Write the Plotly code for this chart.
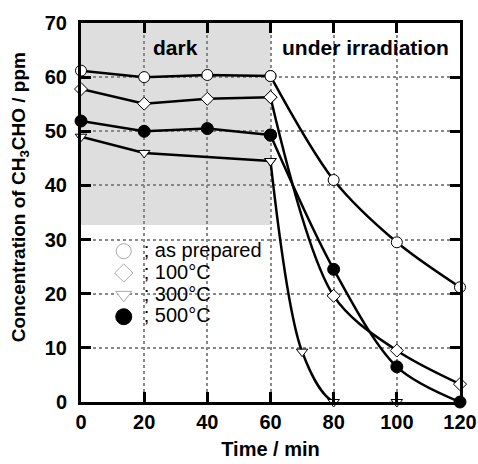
import plotly.graph_objects as go

# Data
t_dark = [0, 20, 40, 60]
t_irr = [60, 80, 100, 120]

as_prep_dark = [61.2, 60.0, 60.4, 60.2]
as_prep_irr = [60.2, 41.0, 29.5, 21.2]

c100_dark = [57.8, 55.1, 56.0, 56.3]
c100_irr = [56.3, 19.6, 9.5, 3.3]

t300_dark = [0, 20, 60]
c300_dark = [49.0, 46.0, 44.5]
t300_irr = [60, 70, 80, 100]
c300_irr = [44.5, 9.3, 0.0, 0.0]

c500_dark = [51.9, 50.0, 50.5, 49.3]
c500_irr = [49.3, 24.5, 6.5, 0.0]

legend_labels = ["; as prepared", "; 100°C", "; 300°C", "; 500°C"]
x_ticks = [0, 20, 40, 60, 80, 100, 120]
y_ticks = [0, 10, 20, 30, 40, 50, 60, 70]

FONT = "Liberation Sans, Arial, Helvetica, sans-serif"

styles = [
    dict(symbol="circle", size=11, color="white"),
    dict(symbol="diamond", size=10, color="white"),
    dict(symbol="triangle-down", size=10, color="white"),
    dict(symbol="circle", size=12, color="black"),
]

series = [
    (t_dark, as_prep_dark, t_irr, as_prep_irr),
    (t_dark, c100_dark, t_irr, c100_irr),
    (t300_dark, c300_dark, t300_irr, c300_irr),
    (t_dark, c500_dark, t_irr, c500_irr),
]

fig = go.Figure()

for (xd, yd, xi, yi), st, lab in zip(series, styles, legend_labels):
    mk = dict(symbol=st["symbol"], size=st["size"], color=st["color"],
              line=dict(color="black", width=1))
    fig.add_trace(go.Scatter(x=xi, y=yi, mode="lines+markers",
                             line=dict(color="black", width=2.5, shape="spline", smoothing=0.9),
                             marker=mk, showlegend=False, cliponaxis=False))
    fig.add_trace(go.Scatter(x=xd, y=yd, mode="lines+markers", line=dict(color="black", width=2.5),
                             marker=mk, showlegend=False, cliponaxis=False))
    lmk = dict(symbol=st["symbol"], size=st["size"] + 4, color=st["color"],
               line=dict(color="#aaaaaa" if st["color"] == "white" else "black", width=1))
    fig.add_trace(go.Scatter(x=[None], y=[None], mode="markers", marker=lmk,
                             name='<span style="font-size:20px">%s</span>' % lab, showlegend=True))

fig.add_shape(type="rect", x0=0, x1=60, y0=32.7, y1=70, xref="x", yref="y",
              fillcolor="#dedede", line=dict(width=0), layer="below")

fig.add_annotation(x=30, y=65.5, text="<b>dark</b>", showarrow=False,
                   font=dict(family=FONT, size=21, color="black"))
fig.add_annotation(x=90, y=65.5, text="<b>under irradiation</b>", showarrow=False,
                   font=dict(family=FONT, size=21, color="black"))

# y-axis title as a rotated annotation (positioned in paper coordinates)
fig.add_annotation(x=-0.161, y=0.54, xref="paper", yref="paper", textangle=-90,
                   xanchor="center", yanchor="middle", showarrow=False,
                   text="<b>Concentration of CH<sub>3</sub>CHO / ppm</b>",
                   font=dict(family=FONT, size=19, color="black"))

axis_common = dict(
    showline=True, linecolor="black", linewidth=3, mirror="ticks",
    ticks="inside", ticklen=10, tickwidth=3, tickcolor="black",
    showgrid=True, gridcolor="#888888", griddash="dot", gridwidth=2,
    zeroline=False, automargin=False,
    tickfont=dict(family=FONT, size=20, color="black"),
)

fig.update_xaxes(range=[0, 120], tickvals=x_ticks,
                 ticktext=["<b>%d</b>" % v for v in x_ticks],
                 title=dict(text="<b>Time / min</b>", font=dict(family=FONT, size=20, color="black"), standoff=10),
                 **axis_common)
fig.update_yaxes(range=[0, 70], tickvals=y_ticks,
                 ticktext=["<b>%d</b>" % v for v in y_ticks],
                 ticklabelstandoff=7,
                 **axis_common)

fig.update_layout(
    width=478, height=464,
    margin=dict(l=81, r=18, t=23, b=62),
    plot_bgcolor="white", paper_bgcolor="white",
    legend=dict(x=0.06, y=0.44, xanchor="left", yanchor="top",
                bgcolor="rgba(0,0,0,0)", font=dict(family=FONT, size=14.5, color="black"),
                tracegroupgap=0, itemsizing="trace"),
)

fig.write_html("out.html")
